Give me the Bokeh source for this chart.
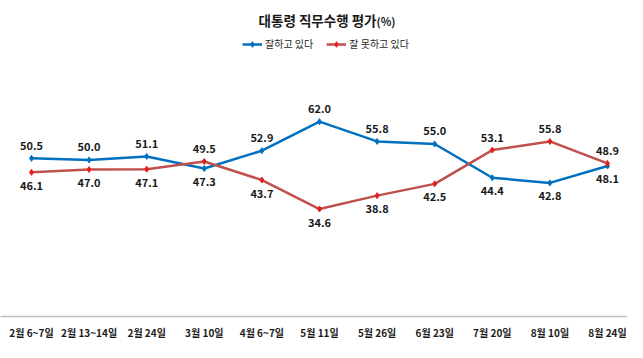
from bokeh.plotting import figure
from bokeh.models import (ColumnDataSource, FixedTicker, Legend, LegendItem, Label, Range1d)
from bokeh.core.properties import value
from bokeh.embed import file_html
from bokeh.resources import INLINE

categories = ["2월 6~7일", "2월 13~14일", "2월 24일", "3월 10일", "4월 6~7일", "5월 11일",
              "5월 26일", "6월 23일", "7월 20일", "8월 10일", "8월 24일"]
good = [50.5, 50.0, 51.1, 47.3, 52.9, 62.0, 55.8, 55.0, 44.4, 42.8, 48.1]
bad = [46.1, 47.0, 47.1, 49.5, 43.7, 34.6, 38.8, 42.5, 53.1, 55.8, 48.9]
series_names = ["잘하고 있다", "잘 못하고 있다"]
title_main = "대통령 직무수행 평가"
title_unit = "(%)"

FONT = "Noto Sans CJK KR"
BLUE = "#0070C0"
RED = "#C0504D"
RED_MK = "#E8201C"
TXT = "#1a1a1a"

W, H = 627, 342
p = figure(width=W, height=H, output_backend="svg", toolbar_location=None,
           min_border_left=0, min_border_right=0, min_border_top=0, min_border_bottom=23,
           x_range=Range1d(-0.538, 10.347), y_range=Range1d(0.9, 100.0))
p.outline_line_color = None
p.grid.visible = False
p.yaxis.visible = False

xs = list(range(len(categories)))
src = ColumnDataSource(dict(
    x=xs, good=good, bad=bad,
    good_txt=[f"{v:.1f}" for v in good], bad_txt=[f"{v:.1f}" for v in bad],
    good_off=[-13 if g >= b else 13 for g, b in zip(good, bad)],
    bad_off=[-13 if b > g else 13 for g, b in zip(good, bad)],
))

l1 = p.line("x", "good", source=src, line_color=BLUE, line_width=2.5)
m1 = p.scatter("x", "good", source=src, marker="diamond", size=6, fill_color=BLUE, line_color=BLUE)
l2 = p.line("x", "bad", source=src, line_color=RED, line_width=2.5)
m2 = p.scatter("x", "bad", source=src, marker="diamond", size=6, fill_color=RED_MK, line_color=RED_MK)

for col, txt, off in (("good", "good_txt", "good_off"), ("bad", "bad_txt", "bad_off")):
    p.text("x", col, text=txt, source=src, y_offset=off, text_align="center",
           text_baseline="middle", text_font=value(FONT), text_font_size="11px",
           text_font_style="bold", text_color=TXT)

ax = p.xaxis[0]
ax.ticker = FixedTicker(ticks=xs)
ax.major_label_overrides = {i: c for i, c in enumerate(categories)}
ax.major_tick_out = 0
ax.major_tick_in = 0
ax.minor_tick_out = 0
ax.minor_tick_in = 0
ax.axis_line_color = "#BFBFBF"
ax.axis_line_width = 1.5
ax.major_label_standoff = 8
ax.major_label_text_font = FONT
ax.major_label_text_font_size = "10px"
ax.major_label_text_font_style = "bold"
ax.major_label_text_color = TXT

legend = Legend(items=[LegendItem(label=series_names[0], renderers=[l1, m1]),
                       LegendItem(label=series_names[1], renderers=[l2, m2])],
                orientation="horizontal", location=(242, 265),
                padding=0, margin=0, spacing=13, glyph_width=20, glyph_height=14,
                label_height=14, label_standoff=3, border_line_color=None,
                background_fill_alpha=0, label_text_font=FONT, label_text_font_size="10px",
                label_text_color="#262626")
p.add_layout(legend, "center")

p.add_layout(Label(x=376, y=297, x_units="screen", y_units="screen", text=title_main,
                   text_font=FONT, text_font_size="13.5px", text_font_style="bold",
                   text_color=TXT, text_baseline="middle", text_align="right"))
p.add_layout(Label(x=376, y=296, x_units="screen", y_units="screen", text=title_unit,
                   text_font=FONT, text_font_size="11px", text_font_style="bold",
                   text_color=TXT, text_baseline="middle", text_align="left"))

open("out.html", "w").write(file_html(p, INLINE))
